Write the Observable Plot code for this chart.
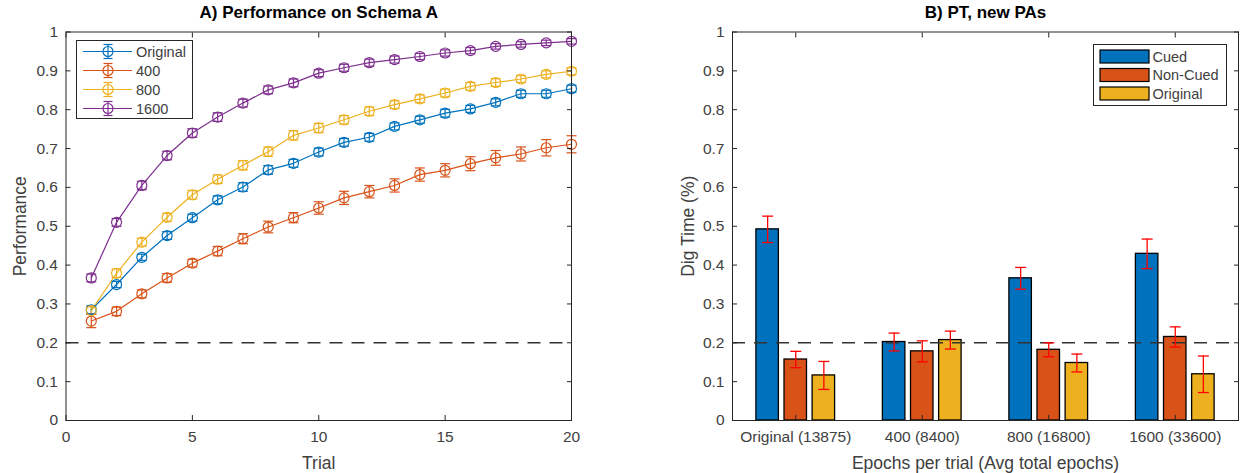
<!DOCTYPE html>
<html>
<head>
<meta charset="utf-8">
<script src="https://cdn.jsdelivr.net/npm/d3@7"></script>
<script src="https://cdn.jsdelivr.net/npm/@observablehq/plot@0.6"></script>
<style>
  body { margin: 0; background: #fff; }
  #fig { position: relative; width: 1243px; height: 473px; overflow: hidden; background: #fff;
         font-family: "Liberation Sans", Arial, Helvetica, sans-serif; }
  #fig > svg { position: absolute; top: 0; }
</style>
</head>
<body>
<div id="fig"></div>
<script>
// ---------- Panel A: performance per trial ----------
const trials = [1,2,3,4,5,6,7,8,9,10,11,12,13,14,15,16,17,18,19,20];
const seriesNames = ["Original", "400", "800", "1600"];
const seriesColors = ["#0072BD", "#D95319", "#EDB120", "#7E2F8E"];

const perfOriginal = [0.285,0.350,0.420,0.476,0.522,0.568,0.601,0.645,0.662,0.691,0.716,0.729,0.757,0.774,0.791,0.802,0.819,0.841,0.841,0.854];
const errOriginal  = [0.010,0.008,0.008,0.010,0.009,0.010,0.011,0.011,0.010,0.010,0.010,0.010,0.009,0.009,0.010,0.009,0.009,0.009,0.009,0.009];
const perf400 = [0.256,0.281,0.326,0.367,0.405,0.436,0.468,0.498,0.522,0.547,0.573,0.589,0.605,0.633,0.644,0.661,0.676,0.686,0.702,0.711];
const err400  = [0.017,0.011,0.010,0.011,0.010,0.012,0.013,0.015,0.013,0.016,0.017,0.016,0.017,0.017,0.017,0.018,0.019,0.018,0.021,0.022];
const perf800 = [0.283,0.379,0.459,0.523,0.581,0.621,0.657,0.692,0.734,0.753,0.774,0.796,0.813,0.828,0.843,0.860,0.870,0.879,0.891,0.899];
const err800  = [0.010,0.011,0.010,0.010,0.011,0.011,0.012,0.012,0.012,0.012,0.011,0.011,0.010,0.010,0.010,0.010,0.010,0.009,0.009,0.009];
const perf1600 = [0.367,0.510,0.605,0.682,0.740,0.781,0.817,0.851,0.869,0.894,0.908,0.921,0.929,0.937,0.946,0.952,0.963,0.968,0.972,0.976];
const err1600  = [0.010,0.010,0.011,0.011,0.011,0.011,0.010,0.010,0.010,0.009,0.009,0.009,0.009,0.008,0.008,0.008,0.007,0.007,0.007,0.007];

const xTicksA = [0, 5, 10, 15, 20];
const yTicks = [0, 0.1, 0.2, 0.3, 0.4, 0.5, 0.6, 0.7, 0.8, 0.9, 1];
const chanceLevel = 0.2;

// ---------- Panel B: dig time on new PAs ----------
const groupLabels = ["Original (13875)", "400 (8400)", "800 (16800)", "1600 (33600)"];
const conditionNames = ["Cued", "Non-Cued", "Original"];
const conditionColors = ["#0072BD", "#D95319", "#EDB120"];
const digCued = [0.492, 0.202, 0.366, 0.429];
const errCued = [0.034, 0.023, 0.028, 0.038];
const digNonCued = [0.157, 0.178, 0.182, 0.215];
const errNonCued = [0.021, 0.027, 0.018, 0.026];
const digOriginal = [0.116, 0.207, 0.148, 0.119];
const errOriginal2 = [0.036, 0.023, 0.023, 0.047];

// ---------- tables built from the arrays ----------
const perfSeries = [[perfOriginal, errOriginal], [perf400, err400], [perf800, err800], [perf1600, err1600]];
const perfRows = perfSeries.flatMap(([vals, errs], s) =>
  vals.map((v, i) => ({series: seriesNames[s], trial: trials[i], value: v, lo: v - errs[i], hi: v + errs[i]})));

const digSeries = [[digCued, errCued], [digNonCued, errNonCued], [digOriginal, errOriginal2]];
// grouped bar layout: 3 bars per group, offset inside the group slot
const slot = 2 / 9, barW = slot * 0.8;
const digRows = digSeries.flatMap(([vals, errs], s) =>
  vals.map((v, g) => {
    const c = (g + 1) + (s - 1) * slot;
    return {condition: conditionNames[s], center: c, x1: c - barW / 2, x2: c + barW / 2,
            value: v, lo: v - errs[g], hi: v + errs[g]};
  }));

// short horizontal stroke used as error-bar cap
const cap = (half) => ({draw(ctx) { ctx.moveTo(-half, 0); ctx.lineTo(half, 0); }});

const fontFamily = '"Liberation Sans", Arial, Helvetica, sans-serif';
const axisColor = "#262626";
const textColor = "#404040";
const tickFont = 15.5, labelFont = 17.5, titleFont = 17, legendFont = 14.5;
const plotStyle = {fontFamily, fontSize: tickFont + "px", color: textColor, background: "transparent", overflow: "visible"};

function boxAxes(xTicks, xFormat) {
  return [
    Plot.axisX({ticks: xTicks, anchor: "bottom", tickSize: 0, tickPadding: 10, tickFormat: xFormat, label: null, fontSize: tickFont, fill: textColor}),
    Plot.axisX({ticks: xTicks, anchor: "bottom", tickSize: -5, tickFormat: () => "", label: null, stroke: axisColor}),
    Plot.axisX({ticks: xTicks, anchor: "top", tickSize: -5, tickFormat: () => "", label: null, stroke: axisColor}),
    Plot.axisY({ticks: yTicks, anchor: "left", tickSize: 0, tickPadding: 8, tickFormat: d => String(d), label: null, fontSize: tickFont, fill: textColor}),
    Plot.axisY({ticks: yTicks, anchor: "left", tickSize: -5, tickFormat: () => "", label: null, stroke: axisColor}),
    Plot.axisY({ticks: yTicks, anchor: "right", tickSize: -5, tickFormat: () => "", label: null, stroke: axisColor}),
    Plot.frame({stroke: axisColor, strokeWidth: 1})
  ];
}

function titles(title, xLabel, yLabel, yLabelDx) {
  return [
    Plot.text([title], {text: d => d, frameAnchor: "top", lineAnchor: "middle", dy: -19.5, fontWeight: "bold", fontSize: titleFont, fill: "#000"}),
    Plot.text([xLabel], {text: d => d, frameAnchor: "bottom", lineAnchor: "middle", dy: 42.5, fontSize: labelFont, fill: textColor}),
    Plot.text([yLabel], {text: d => d, frameAnchor: "left", textAnchor: "middle", lineAnchor: "middle", dx: yLabelDx, rotate: -90, fontSize: labelFont, fill: textColor})
  ];
}

const dashed = Plot.ruleY([chanceLevel], {stroke: "#333", strokeWidth: 1.5, strokeDasharray: "13,9"});

const panelA = Plot.plot({
  width: 621, height: 473,
  marginLeft: 65.5, marginRight: 50, marginTop: 31.5, marginBottom: 53,
  x: {domain: [0, 20]},
  y: {domain: [0, 1]},
  color: {domain: seriesNames, range: seriesColors},
  style: plotStyle,
  marks: [
    dashed,
    Plot.line(perfRows, {x: "trial", y: "value", z: "series", stroke: "series", strokeWidth: 1.2}),
    Plot.ruleX(perfRows, {x: "trial", y1: "lo", y2: "hi", stroke: "series", strokeWidth: 1.2}),
    Plot.dot(perfRows, {x: "trial", y: "lo", stroke: "series", symbol: cap(5), strokeWidth: 1.2}),
    Plot.dot(perfRows, {x: "trial", y: "hi", stroke: "series", symbol: cap(5), strokeWidth: 1.2}),
    Plot.dot(perfRows, {x: "trial", y: "value", stroke: "series", fill: "none", r: 5, strokeWidth: 1.2}),
    ...boxAxes(xTicksA, d => String(d)),
    ...titles("A) Performance on Schema A", "Trial", "Performance", -45.5)
  ]
});

const panelB = Plot.plot({
  width: 622, height: 473,
  marginLeft: 111, marginRight: 5, marginTop: 31.5, marginBottom: 53,
  x: {domain: [0.5, 4.5]},
  y: {domain: [0, 1]},
  color: {domain: conditionNames, range: conditionColors},
  style: plotStyle,
  marks: [
    Plot.rectY(digRows, {x1: "x1", x2: "x2", y: "value", fill: "condition", stroke: "#000", strokeWidth: 1.3}),
    dashed,
    Plot.ruleX(digRows, {x: "center", y1: "lo", y2: "hi", stroke: "#ff0000", strokeWidth: 1.3}),
    Plot.dot(digRows, {x: "center", y: "lo", stroke: "#ff0000", symbol: cap(5.5), strokeWidth: 1.3}),
    Plot.dot(digRows, {x: "center", y: "hi", stroke: "#ff0000", symbol: cap(5.5), strokeWidth: 1.3}),
    ...boxAxes([1, 2, 3, 4], d => groupLabels[d - 1]),
    ...titles("B) PT, new PAs", "Epochs per trial (Avg total epochs)", "Dig Time (%)", -44)
  ]
});

const fig = document.getElementById("fig");
panelA.style.left = "0px";
panelB.style.left = "621px";
fig.append(panelA, panelB);

// ---------- legends ----------
function overlay(x, y, w, h) {
  return d3.select(fig).append("svg")
    .attr("width", w).attr("height", h)
    .style("position", "absolute").style("left", x + "px").style("top", y + "px")
    .style("font-family", fontFamily).style("font-size", legendFont + "px");
}

// Panel A legend: line + open circle + error bar
{
  const w = 117, h = 79, rowH = 19, y0 = 11.5;
  const svg = overlay(76, 40, w, h);
  svg.append("rect").attr("x", 0.5).attr("y", 0.5).attr("width", w - 1).attr("height", h - 1)
    .attr("fill", "#fff").attr("stroke", axisColor).attr("stroke-width", 1);
  seriesNames.forEach((name, i) => {
    const cy = y0 + i * rowH, col = seriesColors[i];
    const g = svg.append("g").attr("stroke", col).attr("fill", "none").attr("stroke-width", 1.2);
    g.append("line").attr("x1", 7).attr("x2", 56).attr("y1", cy).attr("y2", cy);
    g.append("line").attr("x1", 32).attr("x2", 32).attr("y1", cy - 7).attr("y2", cy + 7);
    g.append("line").attr("x1", 27.5).attr("x2", 36.5).attr("y1", cy - 7).attr("y2", cy - 7);
    g.append("line").attr("x1", 27.5).attr("x2", 36.5).attr("y1", cy + 7).attr("y2", cy + 7);
    g.append("circle").attr("cx", 32).attr("cy", cy).attr("r", 5);
    svg.append("text").attr("x", 60).attr("y", cy).attr("dy", "0.35em").attr("fill", textColor).text(name);
  });
}

// Panel B legend: filled swatches
{
  const w = 134, h = 62, rowH = 18.5, y0 = 6;
  const svg = overlay(1093, 43.5, w, h);
  svg.append("rect").attr("x", 0.5).attr("y", 0.5).attr("width", w - 1).attr("height", h - 1)
    .attr("fill", "#fff").attr("stroke", axisColor).attr("stroke-width", 1);
  conditionNames.forEach((name, i) => {
    const top = y0 + i * rowH;
    svg.append("rect").attr("x", 7).attr("y", top).attr("width", 49).attr("height", 13)
      .attr("fill", conditionColors[i]).attr("stroke", "#000").attr("stroke-width", 1.2);
    svg.append("text").attr("x", 59.5).attr("y", top + 6.5).attr("dy", "0.35em").attr("fill", textColor).text(name);
  });
}
</script>
</body>
</html>
